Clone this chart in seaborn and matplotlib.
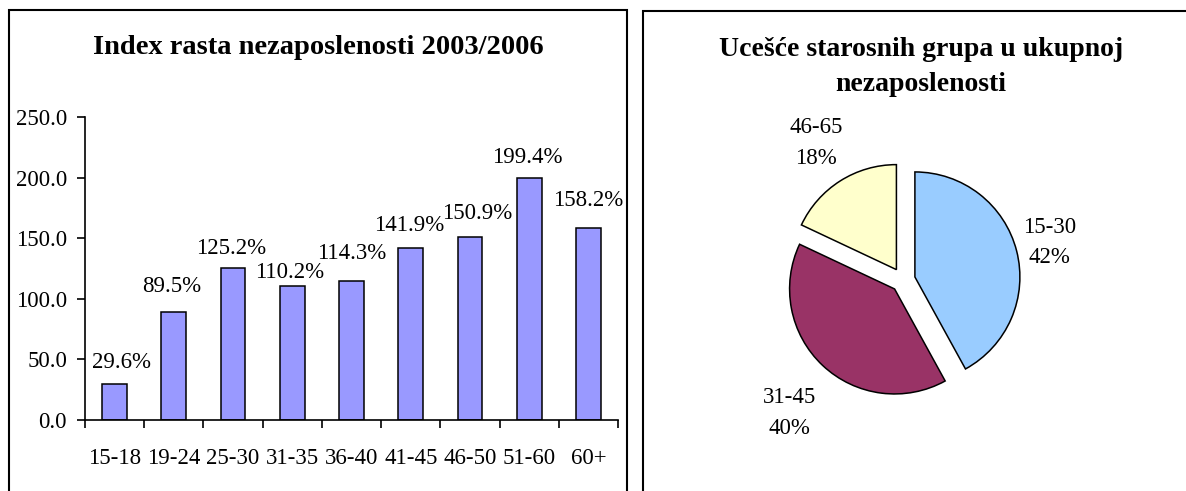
import matplotlib
matplotlib.use("Agg")
import matplotlib.pyplot as plt
import seaborn as sns
import numpy as np
from matplotlib.patches import Rectangle

# data
age_groups = ['15-18', '19-24', '25-30', '31-35', '36-40', '41-45', '46-50', '51-60', '60+']
index_values = [29.6, 89.5, 125.2, 110.2, 114.3, 141.9, 150.9, 199.4, 158.2]

pie_groups = ['15-30', '31-45', '46-65']
pie_shares = [42, 40, 18]
pie_colors = ['#99CCFF', '#993366', '#FFFFCC']

sns.set_style('white')
plt.rcParams['font.family'] = ['Liberation Serif', 'DejaVu Serif']
plt.rcParams['text.color'] = 'black'
plt.rcParams['xtick.color'] = 'black'
plt.rcParams['ytick.color'] = 'black'

W, H = 1186, 491
fig = plt.figure(figsize=(W / 100, H / 100), dpi=100)

# panel frames
fig.add_artist(Rectangle((9 / W, -0.1), (627 - 9) / W, 1.1 - 10 / H,
                         transform=fig.transFigure, fill=False, lw=1.5, ec='black'))
fig.add_artist(Rectangle((643 / W, -0.1), 0.5, 1.1 - 11 / H,
                         transform=fig.transFigure, fill=False, lw=1.5, ec='black'))

# %% bar chart
ax = fig.add_axes([85 / W, (H - 420) / H, 533 / W, 303 / H])
sns.barplot(x=age_groups, y=index_values, color='#9999FF', saturation=1,
            edgecolor='black', linewidth=1.1, width=0.42, ax=ax)
ax.set_xlim(-0.5, len(age_groups) - 0.5)
ax.set_ylim(0, 250)
ax.set_yticks(np.arange(0, 251, 50))
ax.set_yticklabels([f'{v:.1f}' for v in np.arange(0, 251, 50)])
ax.set_xticks(np.arange(-0.5, len(age_groups)), minor=True)
ax.tick_params(axis='x', which='major', bottom=True, length=0, pad=20, labelsize=16.5)
ax.tick_params(axis='x', which='minor', bottom=True, length=6, width=1.2, direction='out')
ax.tick_params(axis='y', which='major', left=True, length=6, width=1.2, direction='out',
               pad=7, labelsize=16.5)
ax.set_xlabel('')
ax.set_ylabel('')
sns.despine(ax=ax)
for s in ['left', 'bottom']:
    ax.spines[s].set_linewidth(1.2)
    ax.spines[s].set_color('black')

# label offsets (pixels) as placed in the original
lab_dx = [7, -2, -2, -3, 0, -2, 7, -2, 0]
lab_dy = [22, 25, 20, 14, 28, 23, 24, 21, 28]
for i, v in enumerate(index_values):
    ax.annotate(f'{v:.1f}%', (i, v), xytext=(lab_dx[i], lab_dy[i]),
                textcoords='offset pixels', ha='center', va='center', fontsize=16.5)

fig.text(318 / W, 1 - 47 / H, 'Index rasta nezaposlenosti 2003/2006',
         ha='center', va='center', fontsize=20.5, fontweight='bold')

# %% pie chart
side = 320
ax2 = fig.add_axes([(903 - side / 2) / W, (H - 280 - side / 2) / H, side / W, side / H])
wedges, _ = ax2.pie(pie_shares, colors=pie_colors, explode=[0.117] * 3,
                    startangle=90, counterclock=False, radius=1,
                    wedgeprops=dict(edgecolor='black', linewidth=1.1))
lim = side / 2 / 105
ax2.set_xlim(-lim, lim)
ax2.set_ylim(-lim, lim)
ax2.set_aspect('equal')
ax2.axis('off')

lab_dist = [1.32, 1.55, 1.43]
lab_turn = [0, 3, 0]
for w, name, share, d, t in zip(wedges, pie_groups, pie_shares, lab_dist, lab_turn):
    ang = np.deg2rad((w.theta1 + w.theta2) / 2 + t)
    cx, cy = w.center
    ax2.text(cx + d * np.cos(ang), cy + d * np.sin(ang), f'{name}\n{share}%',
             ha='center', va='center', fontsize=16.5, linespacing=1.6)

fig.text(921 / W, 1 - 67 / H, 'Ucešće starosnih grupa u ukupnoj\nnezaposlenosti',
         ha='center', va='center', fontsize=20, fontweight='bold', linespacing=1.5)

fig.savefig('out.png', dpi=100)
